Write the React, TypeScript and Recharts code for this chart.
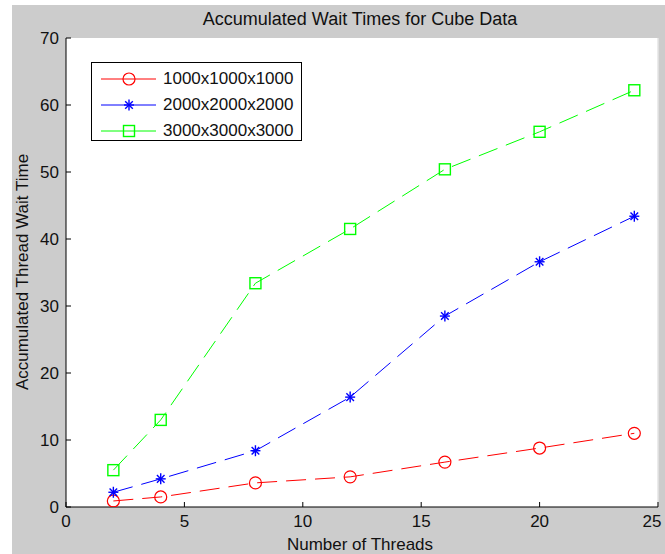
import React from 'react';
import { LineChart, Line, XAxis, YAxis, Legend, ReferenceArea, ReferenceLine } from 'recharts';

const threads = [2, 4, 8, 12, 16, 20, 24];
const wait1000 = [0.9, 1.5, 3.6, 4.5, 6.7, 8.8, 11.0];
const wait2000 = [2.2, 4.2, 8.4, 16.4, 28.5, 36.6, 43.4];
const wait3000 = [5.5, 13.0, 33.4, 41.5, 50.4, 56.0, 62.2];
const seriesNames = ['1000x1000x1000', '2000x2000x2000', '3000x3000x3000'];
const xTicks = [0, 5, 10, 15, 20, 25];
const yTicks = [0, 10, 20, 30, 40, 50, 60, 70];
const titleText = 'Accumulated Wait Times for Cube Data';
const xLabel = 'Number of Threads';
const yLabel = 'Accumulated Thread Wait Time';

const data = threads.map((t, i) => ({ threads: t, s1: wait1000[i], s2: wait2000[i], s3: wait3000[i] }));

const FONT = "'Liberation Sans', Arial, sans-serif";
const RED = '#ff0000';
const BLUE = '#0000ff';
const GREEN = '#00ff00';

const W = 665;
const H = 554;
const PL = 66, PR = 658, PT = 38, PB = 507;

function Circle({ cx, cy }: any) {
  return <circle cx={cx} cy={cy} r={6} fill="none" stroke={RED} strokeWidth={1.2} />;
}
function Star({ cx, cy }: any) {
  return (
    <g stroke={BLUE} strokeWidth={1.4}>
      <line x1={cx - 5} y1={cy} x2={cx + 5} y2={cy} />
      <line x1={cx} y1={cy - 5.5} x2={cx} y2={cy + 5.5} />
      <line x1={cx - 3.8} y1={cy - 3.8} x2={cx + 3.8} y2={cy + 3.8} />
      <line x1={cx - 3.8} y1={cy + 3.8} x2={cx + 3.8} y2={cy - 3.8} />
    </g>
  );
}
function Square({ cx, cy }: any) {
  return <rect x={cx - 5.5} y={cy - 5.5} width={11} height={11} fill="none" stroke={GREEN} strokeWidth={1.4} />;
}

const markers = [Circle, Star, Square];
const colors = [RED, BLUE, GREEN];

const dotFn = (M: any) => (props: any) => {
  const { cx, cy, index } = props;
  return <M key={`d-${index}`} cx={cx} cy={cy} />;
};

function XTick(props: any) {
  const { x, y, payload } = props;
  const shift = payload.value === 25 ? -6 : 0;
  return (
    <g>
      <line x1={x} y1={y} x2={x} y2={y - 5} stroke="#000" strokeWidth={1} />
      <text x={x + shift} y={y + 20} textAnchor="middle" fontFamily={FONT} fontSize={17} fill="#111">
        {payload.value}
      </text>
    </g>
  );
}
function YTick(props: any) {
  const { x, y, payload } = props;
  return (
    <g>
      <line x1={x} y1={y} x2={x + 5} y2={y} stroke="#000" strokeWidth={1} />
      <text x={x - 7} y={y + 6} textAnchor="end" fontFamily={FONT} fontSize={17} fill="#111">
        {payload.value}
      </text>
    </g>
  );
}

function LegendBox() {
  return (
    <div
      style={{
        width: 211,
        height: 79,
        border: '1px solid #000',
        background: '#fff',
        boxSizing: 'border-box',
        position: 'relative',
      }}
    >
      {seriesNames.map((name, i) => {
        const M = markers[i];
        return (
          <div key={name} style={{ position: 'absolute', left: 0, top: 4 + i * 26, height: 24, width: 211 }}>
            <svg width={70} height={24} style={{ position: 'absolute', left: 0, top: 0 }}>
              <line x1={9} y1={12} x2={64} y2={12} stroke={colors[i]} strokeWidth={1} />
              <M cx={37} cy={12} />
            </svg>
            <span
              style={{
                position: 'absolute',
                left: 71,
                top: 2,
                fontFamily: FONT,
                fontSize: 17,
                color: '#111',
                whiteSpace: 'nowrap',
                lineHeight: '20px',
              }}
            >
              {name}
            </span>
          </div>
        );
      })}
    </div>
  );
}

export default function App() {
  return (
    <div style={{ position: 'absolute', left: 0, top: 0, width: W, height: H, background: '#fff' }}>
      <div style={{ position: 'absolute', left: 12, top: 5, width: W - 12, height: H - 5, background: '#cccccc' }} />
      <div style={{ position: 'absolute', left: 0, top: 0 }}>
        <LineChart
          width={W}
          height={H}
          data={data}
          margin={{ top: PT, right: W - PR, left: 0, bottom: 0 }}
        >
          <ReferenceArea x1={0} x2={25} y1={0} y2={70} fill="#ffffff" fillOpacity={1} stroke="none" ifOverflow="extendDomain" />
          <ReferenceLine x={25} stroke="#e4e4e4" strokeWidth={1.5} />
          <XAxis
            type="number"
            dataKey="threads"
            domain={[0, 25]}
            ticks={xTicks}
            interval={0}
            height={H - PB}
            tickSize={0}
            tickMargin={0}
            tick={<XTick />}
            axisLine={{ stroke: '#000', strokeWidth: 1 }}
            tickLine={false}
            allowDataOverflow
          />
          <YAxis
            type="number"
            domain={[0, 70]}
            ticks={yTicks}
            interval={0}
            width={PL}
            tickSize={0}
            tickMargin={0}
            tick={<YTick />}
            axisLine={{ stroke: '#000', strokeWidth: 1 }}
            tickLine={false}
            allowDataOverflow
          />
          <Legend
            layout="vertical"
            align="center"
            verticalAlign="middle"
            content={() => <LegendBox />}
            wrapperStyle={{ left: 91, top: 62, width: 211, height: 79 }}
          />
          {(['s1', 's2', 's3'] as const).map((k, i) => (
            <Line
              key={k}
              type="linear"
              dataKey={k}
              name={seriesNames[i]}
              stroke={colors[i]}
              strokeWidth={1}
              strokeDasharray="20 9"
              dot={dotFn(markers[i])}
              activeDot={false}
              isAnimationActive={false}
            />
          ))}
        </LineChart>
      </div>
      <svg width={W} height={H} style={{ position: 'absolute', left: 0, top: 0, pointerEvents: 'none' }}>
        <text x={360} y={25} textAnchor="middle" fontFamily={FONT} fontSize={18} fill="#111">
          {titleText}
        </text>
        <text x={360} y={550} textAnchor="middle" fontFamily={FONT} fontSize={17} fill="#111">
          {xLabel}
        </text>
        <text
          x={28}
          y={272}
          textAnchor="middle"
          fontFamily={FONT}
          fontSize={17}
          fill="#111"
          transform="rotate(-90 28 272)"
        >
          {yLabel}
        </text>
      </svg>
    </div>
  );
}
